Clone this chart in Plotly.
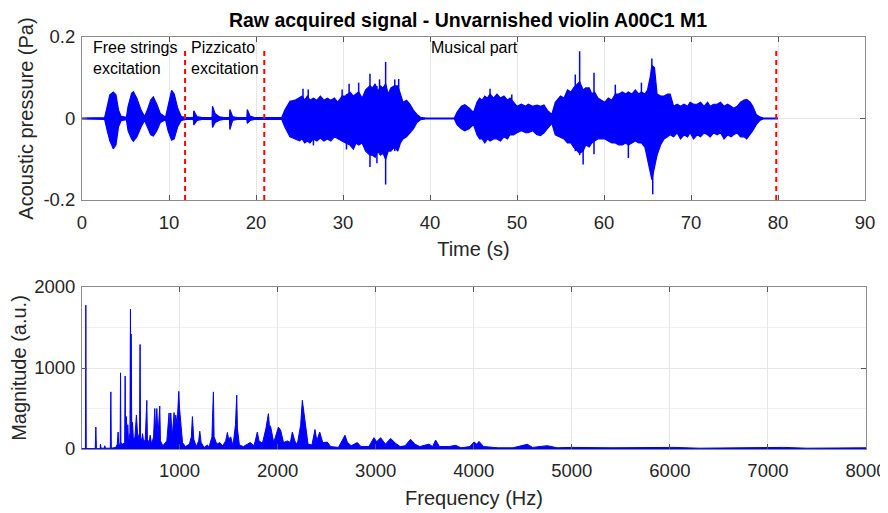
import plotly.graph_objects as go

# ---------------- data: time signal envelope (s, Pa) ----------------
t_s = [0, 2.6, 2.9, 3.2, 3.6, 3.9, 4.2, 4.5, 5.1,
       5.3, 5.7, 5.9, 6.3, 6.8, 7.2,
       7.5, 7.9, 8.2, 8.6, 9.0, 9.6,
       9.9, 10.3, 10.6, 11.0, 11.4, 12.0,
       12.8, 12.85, 13.2, 13.8,
       14.95, 15.0, 15.3, 15.8, 16.3,
       16.95, 17.0, 17.3, 17.8,
       18.95, 19.0, 19.3, 19.8, 22.9,
       22.95, 23.3, 23.9, 24.5, 25.0, 25.3, 25.6, 25.9, 26.2, 26.6, 27.0, 27.4, 27.8,
       28.2, 28.6, 29.0, 29.4, 29.9, 30.3, 30.8, 31.2, 31.5, 31.8, 32.2, 32.6, 33.1,
       33.4, 33.7, 34.0, 34.3, 34.6, 34.9, 35.2, 35.5, 35.9, 36.3, 36.6, 36.9, 37.3,
       37.7, 38.1, 38.5, 38.9, 39.5, 42.8,
       43.1, 43.6, 44.0, 44.5, 45.0, 45.4, 45.7, 46.0, 46.3, 46.6, 46.9, 47.3, 47.7,
       48.1, 48.5, 48.9, 49.2, 49.6, 50.0, 50.5, 51.0, 51.3, 51.8, 52.3, 52.7, 53.1,
       53.5, 54.0, 54.4, 55.0, 55.4, 55.8, 56.2, 56.5, 56.9, 57.2, 57.6, 57.9, 58.3,
       58.6, 58.9, 59.3, 59.7, 60.1, 60.5, 60.9, 61.3, 61.7, 62.1, 62.5, 62.8, 63.2,
       63.6, 64.0, 64.3, 64.7, 65.0, 65.3, 65.5, 65.8, 66.1, 66.5, 66.9, 67.3, 67.6,
       68.0, 68.4, 68.8, 69.2, 69.6, 69.9, 70.3, 70.7, 71.1, 71.5, 71.9, 72.2, 72.6,
       73.0, 73.4, 73.8, 74.2, 74.6, 74.9, 75.3, 75.7, 76.1, 76.4, 76.8, 77.1, 77.5,
       77.9, 78.3, 80.0]

p_up = [0.001, 0.002, 0.03, 0.058, 0.065, 0.058, 0.02, 0.005, 0.003,
        0.03, 0.062, 0.066, 0.05, 0.02, 0.005,
        0.02, 0.045, 0.053, 0.035, 0.012, 0.003,
        0.03, 0.069, 0.06, 0.025, 0.005, 0.002,
        0.002, 0.019, 0.005, 0.002,
        0.002, 0.03, 0.012, 0.004, 0.002,
        0.002, 0.022, 0.005, 0.002,
        0.002, 0.022, 0.006, 0.002, 0.001,
        0.002, 0.02, 0.042, 0.045, 0.05, 0.055, 0.045, 0.055, 0.045, 0.05, 0.045, 0.055, 0.045,
        0.05, 0.045, 0.05, 0.04, 0.055, 0.055, 0.065, 0.055, 0.06, 0.065, 0.05, 0.07, 0.08,
        0.075, 0.085, 0.065, 0.08, 0.075, 0.085, 0.06, 0.075, 0.08, 0.08, 0.06, 0.04, 0.045,
        0.035, 0.02, 0.01, 0.003, 0.001, 0.001,
        0.015, 0.03, 0.034, 0.026, 0.015, 0.04, 0.05, 0.045, 0.055, 0.05, 0.06, 0.05, 0.06,
        0.05, 0.055, 0.045, 0.05, 0.04, 0.03, 0.035, 0.03, 0.035, 0.03, 0.033, 0.03, 0.033,
        0.02, 0.01, 0.04, 0.055, 0.05, 0.07, 0.065, 0.075, 0.085, 0.09, 0.07, 0.075, 0.075,
        0.06, 0.065, 0.05, 0.045, 0.04, 0.05, 0.045, 0.06, 0.06, 0.065, 0.06, 0.065, 0.06,
        0.07, 0.06, 0.065, 0.06, 0.07, 0.1, 0.13, 0.125, 0.06, 0.055, 0.055, 0.06, 0.06,
        0.03, 0.035, 0.03, 0.035, 0.03, 0.04, 0.035, 0.035, 0.04, 0.03, 0.04, 0.03, 0.035,
        0.035, 0.04, 0.03, 0.035, 0.03, 0.025, 0.03, 0.04, 0.045, 0.047, 0.04, 0.03, 0.01,
        0.004, 0.001, 0.001]

p_lo = [-0.001, -0.002, -0.03, -0.055, -0.074, -0.065, -0.02, -0.005, -0.003,
        -0.03, -0.05, -0.056, -0.045, -0.02, -0.005,
        -0.02, -0.04, -0.043, -0.03, -0.01, -0.003,
        -0.03, -0.053, -0.05, -0.02, -0.005, -0.002,
        -0.002, -0.016, -0.005, -0.002,
        -0.002, -0.022, -0.01, -0.004, -0.002,
        -0.002, -0.027, -0.005, -0.002,
        -0.002, -0.012, -0.005, -0.002, -0.001,
        -0.002, -0.02, -0.045, -0.05, -0.055, -0.05, -0.06, -0.055, -0.06, -0.05, -0.055, -0.048, -0.055,
        -0.05, -0.055, -0.045, -0.05, -0.055, -0.06, -0.065, -0.075, -0.06, -0.065, -0.06, -0.08, -0.09,
        -0.09, -0.095, -0.08, -0.09, -0.085, -0.1, -0.08, -0.08, -0.07, -0.08, -0.06, -0.05, -0.045,
        -0.035, -0.025, -0.01, -0.003, -0.001, -0.001,
        -0.015, -0.025, -0.03, -0.025, -0.015, -0.04, -0.05, -0.05, -0.06, -0.05, -0.055, -0.05, -0.05,
        -0.055, -0.045, -0.05, -0.04, -0.04, -0.035, -0.03, -0.035, -0.035, -0.03, -0.04, -0.042, -0.035,
        -0.025, -0.012, -0.04, -0.045, -0.05, -0.06, -0.06, -0.07, -0.08, -0.085, -0.08, -0.065, -0.07,
        -0.06, -0.055, -0.05, -0.05, -0.05, -0.055, -0.06, -0.06, -0.065, -0.065, -0.06, -0.065, -0.06,
        -0.055, -0.06, -0.06, -0.07, -0.1, -0.13, -0.15, -0.12, -0.09, -0.065, -0.05, -0.045, -0.04,
        -0.045, -0.035, -0.05, -0.04, -0.045, -0.035, -0.05, -0.04, -0.045, -0.035, -0.04, -0.045, -0.035,
        -0.04, -0.035, -0.05, -0.04, -0.045, -0.04, -0.035, -0.045, -0.045, -0.05, -0.04, -0.03, -0.015,
        -0.005, -0.001, -0.001]

# thin transient spikes of the musical part (s, top Pa, bottom Pa)
spike_t = [25.4, 26.0, 26.6, 29.9, 30.4, 30.7, 31.8, 33.1, 33.9, 34.2, 34.9, 35.95, 36.4,
           46.9, 49.4, 56.7, 57.2, 57.6, 58.85, 61.3, 62.8, 64.3, 65.5, 65.6]
spike_top = [0.073, 0.071, 0.05, 0.071, 0.06, 0.085, 0.088, 0.110, 0.08, 0.096, 0.139, 0.096, 0.097,
             0.073, 0.059, 0.108, 0.165, 0.07, 0.112, 0.083, 0.065, 0.088, 0.147, 0.12]
spike_bot = [-0.05, -0.05, -0.066, -0.055, -0.076, -0.06, -0.06, -0.119, -0.11, -0.08, -0.162, -0.08, -0.07,
             -0.05, -0.04, -0.08, -0.09, -0.113, -0.088, -0.06, -0.097, -0.06, -0.14, -0.186]

section_t = [11.85, 20.95, 79.8]          # red dashed section boundaries (s)
section_labels = ["Free strings<br>excitation", "Pizzicato<br>excitation", "Musical part"]
section_label_t = [1.15, 12.4, 40.0]

# ---------------- data: spectrum (Hz, a.u.) ----------------
spec_hz = [5, 40, 44, 48, 140, 146, 152, 190, 193, 200, 232, 237, 245, 294, 299, 304,
           350, 365, 373, 380, 394, 398, 402, 420, 440, 445, 450, 458, 466, 472, 480, 494,
           499, 503, 506, 512, 520, 530, 545, 560, 575, 592, 597, 602, 615, 622, 635, 650,
           666, 672, 690, 700, 715, 735, 747, 757, 768, 780, 798, 805, 830, 870, 893, 900,
           910, 925, 944, 950, 961, 975, 992, 1000, 1010, 1030, 1060, 1100, 1120, 1131, 1145,
           1170, 1195, 1206, 1220, 1250, 1284, 1300, 1330, 1340, 1345, 1352, 1380, 1410, 1440,
           1470, 1488, 1500, 1521, 1545, 1570, 1583, 1590, 1610, 1650, 1692, 1720, 1760, 1793,
           1810, 1845, 1880, 1906, 1915, 1930, 1960, 1990, 2008, 2031, 2060, 2100, 2130, 2150,
           2175, 2200, 2235, 2252, 2265, 2280, 2310, 2350, 2381, 2400, 2429, 2460, 2507, 2540,
           2592, 2620, 2687, 2710, 2750, 2812, 2850, 2930, 2982, 3010, 3050, 3100, 3152, 3203,
           3250, 3300, 3356, 3400, 3450, 3543, 3580, 3611, 3650, 3747, 3815, 3870, 3960, 4003,
           4030, 4054, 4100, 4250, 4400, 4546, 4600, 4750, 4850, 5000, 5400, 6041, 6300, 7162,
           7400, 8000]
spec_mag = [5, 5, 1775, 5, 5, 270, 5, 5, 60, 10, 10, 40, 10, 10, 705, 10,
            20, 60, 210, 60, 60, 940, 80, 60, 80, 900, 120, 400, 100, 300, 80, 200,
            1725, 600, 1420, 300, 330, 100, 150, 420, 120, 200, 1290, 150, 100, 190, 80, 120,
            600, 120, 80, 170, 60, 150, 500, 200, 500, 150, 530, 100, 40, 100, 445, 200,
            445, 150, 450, 250, 420, 300, 712, 500, 350, 80, 30, 60, 150, 400, 120,
            30, 100, 220, 80, 20, 50, 20, 150, 450, 705, 150, 60, 80, 40,
            100, 205, 120, 150, 40, 300, 665, 250, 50, 30, 60, 80, 40, 210,
            100, 70, 250, 437, 300, 270, 80, 200, 270, 230, 80, 100, 80, 210,
            100, 50, 300, 601, 480, 400, 60, 50, 240, 100, 210, 80, 85, 30,
            20, 20, 170, 85, 40, 80, 30, 30, 140, 90, 140, 60, 130, 70,
            30, 40, 120, 60, 30, 60, 30, 110, 30, 30, 45, 15, 30, 86,
            60, 94, 30, 15, 15, 58, 20, 41, 15, 20, 15, 20, 10, 20,
            10, 15]

BLUE = "#0000ff"
OFF = 8                      # page body margin of the browser
W, H = 888 - OFF, 513 - OFF


def px_x(p):
    return (p - OFF) / W


def px_y(p):
    return (513 - p) / H


fig = go.Figure()
fig.add_trace(go.Scatter(x=t_s, y=p_up, mode="lines", line=dict(color=BLUE, width=1.2),
                         xaxis="x", yaxis="y", hoverinfo="skip", showlegend=False))
fig.add_trace(go.Scatter(x=t_s, y=p_lo, mode="lines", line=dict(color=BLUE, width=1.2),
                         fill="tonexty", fillcolor=BLUE,
                         xaxis="x", yaxis="y", hoverinfo="skip", showlegend=False))
sx, sy = [], []
for ts, top, bot in zip(spike_t, spike_top, spike_bot):
    sx += [ts, ts, None]
    sy += [bot, top, None]
fig.add_trace(go.Scatter(x=sx, y=sy, mode="lines", line=dict(color=BLUE, width=1.5),
                         xaxis="x", yaxis="y", hoverinfo="skip", showlegend=False))
for ts in section_t:
    fig.add_trace(go.Scatter(x=[ts, ts], y=[-0.2, 0.167], mode="lines",
                             line=dict(color="#ff0000", width=2, dash="5px,4px"),
                             xaxis="x", yaxis="y", hoverinfo="skip", showlegend=False))
fig.add_trace(go.Scatter(x=spec_hz, y=spec_mag, mode="lines", line=dict(color=BLUE, width=1),
                         fill="tozeroy", fillcolor=BLUE,
                         xaxis="x2", yaxis="y2", hoverinfo="skip", showlegend=False))

TICKFONT = dict(family="Liberation Sans, Arial, sans-serif", size=18.5, color="#262626")
TITLEFONT = dict(family="Liberation Sans, Arial, sans-serif", size=20, color="#262626")
common = dict(showline=True, linecolor="#8c8c8c", linewidth=1, mirror="ticks",
              ticks="inside", ticklen=5, tickcolor="#555555",
              showgrid=True, gridcolor="#e6e6e6", gridwidth=1, zeroline=False,
              tickfont=TICKFONT, automargin=False)

fig.update_layout(
    width=W, height=H, margin=dict(l=0, r=0, t=0, b=0, autoexpand=False),
    paper_bgcolor="white", plot_bgcolor="white", showlegend=False,
    title=dict(text="<b>Raw acquired signal - Unvarnished violin A00C1 M1</b>",
               x=px_x(468), xanchor="center", y=px_y(20), yanchor="middle",
               xref="paper", yref="paper", automargin=False,
               font=dict(family="Liberation Sans, Arial, sans-serif", size=19.5, color="black")),
    xaxis=dict(domain=[px_x(82), px_x(865)], anchor="y", range=[0, 90],
               tickvals=list(range(0, 91, 10)), ticklabelstandoff=6,
               title=dict(text="Time (s)", font=TITLEFONT, standoff=9), **common),
    yaxis=dict(domain=[px_y(200), px_y(37)], anchor="x", range=[-0.2, 0.2],
               tickvals=[-0.2, 0, 0.2], ticktext=["-0.2", "0", "0.2"], ticklabelstandoff=2,
               title=dict(text="Acoustic pressure (Pa)", font=TITLEFONT, standoff=4), **common),
    xaxis2=dict(domain=[px_x(82), px_x(866)], anchor="y2", range=[5, 8000],
                tickvals=list(range(1000, 8001, 1000)), ticklabelstandoff=5,
                title=dict(text="Frequency (Hz)", font=TITLEFONT, standoff=10), **common),
    yaxis2=dict(domain=[px_y(449), px_y(287)], anchor="x2", range=[0, 2000],
                tickvals=[0, 1000, 2000], ticklabelstandoff=2,
                minor=dict(tickvals=[500, 1500], showgrid=True, gridcolor="#f0f0f0", ticks=""),
                title=dict(text="Magnitude (a.u.)", font=TITLEFONT, standoff=6), **common),
)

ANNFONT = dict(family="Liberation Sans, Arial, sans-serif", size=16, color="black")
for txt, tx in zip(section_labels, section_label_t):
    fig.add_annotation(x=tx, y=px_y(38), xref="x", yref="paper", text=txt,
                       xanchor="left", yanchor="top", align="left", showarrow=False,
                       font=ANNFONT, borderpad=0)

fig.write_html("out.html")
